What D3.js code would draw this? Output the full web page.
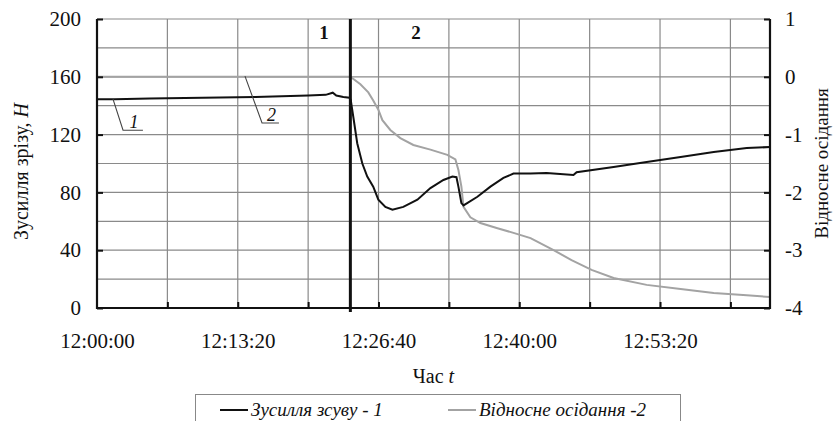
<!DOCTYPE html>
<html><head><meta charset="utf-8">
<script src="https://cdn.jsdelivr.net/npm/d3@7"></script>
<style>
html,body{margin:0;padding:0;background:#fff;}
svg, svg text{font-family:"Liberation Serif","DejaVu Serif","Noto Serif",serif !important;fill:#111;}
</style></head>
<body><svg id="c" width="833" height="421"></svg>
<script>
// ---- data ----
const xTickLabels = ["12:00:00","12:13:20","12:26:40","12:40:00","12:53:20"];
const xStart = "12:00:00", xEnd = "13:03:45";
const leftTicks = [0,40,80,120,160,200];
const rightTicks = [1,0,-1,-2,-3,-4];
// series 1: shear force (N), seconds after 12:00:00
const forceTimes  = [0,100,300,600,900,1200,1300,1340,1360,1400,1435,1442,1457,1479,1508,1536,1570,1599,1639,1679,1741,1821,1895,1969,2020,2043,2054,2071,2083,2162,2236,2310,2367,2464,2555,2708,2726,2936,3124,3317,3505,3693,3825];
const forceValues = [144.5,144.4,145,145.5,146,147,147.5,149,147,146,145.5,144,132,114,100,91,84,75,70,68,70,75,83,88.6,91,90.5,84,72.6,71,77,84,90,93,93,93.4,92,94,97.6,101,104.5,108,110.7,111.4];
// series 2: relative settlement
const settleTimes  = [0,1440,1497,1542,1570,1599,1622,1667,1724,1798,1895,1991,2037,2054,2071,2083,2122,2179,2276,2367,2464,2595,2697,2811,2936,3124,3317,3505,3693,3825];
const settleValues = [0,0,-0.13,-0.27,-0.41,-0.57,-0.75,-0.92,-1.06,-1.18,-1.26,-1.35,-1.43,-1.61,-1.9,-2.25,-2.43,-2.53,-2.62,-2.7,-2.79,-3.0,-3.17,-3.34,-3.48,-3.6,-3.67,-3.74,-3.78,-3.81];
const boundaryTime = "12:24:00";
const stageLabels = ["1","2"];
const stageTimes = [1290,1813];
const stageValue = 186;
const seriesNames = ["Зусилля зсуву - 1","Відносне осідання -2"];
// curve tags: leader start (t,v), leader bend (t,v), underline end t
const tagNames = ["1","2"];
const tagStart = [[91,144.5],[841,160.5]];
const tagBend  = [[148,123],[938,128]];
const tagEnd   = [261,1034];

// ---- layout ----
const FONT = '"Liberation Serif","DejaVu Serif","Noto Serif",serif';
const svg = d3.select("#c");
const M = {l:97, r:770, t:19, b:308};
const parse = d3.timeParse("%H:%M:%S");
const t0 = parse(xStart);
const sec = s => new Date(t0.getTime() + s*1000);
const x = d3.scaleTime().domain([t0, parse(xEnd)]).range([M.l, M.r]);
const yL = d3.scaleLinear().domain([0,200]).range([M.b, M.t]);
const yR = d3.scaleLinear().domain([-4,1]).range([M.b, M.t]);
const endSec = (parse(xEnd)-t0)/1000;

// grid
const g = svg.append("g");
g.selectAll(".hg").data(d3.range(0,201,20)).join("line")
  .attr("x1",M.l).attr("x2",M.r).attr("y1",d=>yL(d)).attr("y2",d=>yL(d))
  .attr("stroke","#8a8a8a").attr("stroke-width",1.2);
g.selectAll(".vg").data(d3.range(400,endSec,400)).join("line")
  .attr("x1",d=>x(sec(d))).attr("x2",d=>x(sec(d))).attr("y1",M.t).attr("y2",M.b)
  .attr("stroke","#8a8a8a").attr("stroke-width",1.2);

// lines
const lineF = d3.line().x((d,i)=>x(sec(forceTimes[i]))).y(d=>yL(d));
const lineS = d3.line().x((d,i)=>x(sec(settleTimes[i]))).y(d=>yR(d));
svg.append("path").datum(settleValues).attr("d",lineS).attr("fill","none")
  .attr("stroke","#a3a3a3").attr("stroke-width",2);
svg.append("path").datum(forceValues).attr("d",lineF).attr("fill","none")
  .attr("stroke","#111").attr("stroke-width",2);

// frame
const fr = svg.append("g").attr("stroke","#111").attr("stroke-width",2.2);
fr.append("line").attr("x1",M.l).attr("x2",M.l).attr("y1",M.t).attr("y2",M.b+1);
fr.append("line").attr("x1",M.l-1).attr("x2",M.r+1).attr("y1",M.b).attr("y2",M.b);
fr.append("line").attr("x1",M.r).attr("x2",M.r).attr("y1",M.t).attr("y2",M.b+1);

// boundary line
const bx = x(parse(boundaryTime));
svg.append("line").attr("x1",bx).attr("x2",bx).attr("y1",M.t).attr("y2",M.b+4)
  .attr("stroke","#111").attr("stroke-width",3);

// axes
const fs = "21px";
const axL = svg.append("g").attr("transform",`translate(${M.l},0)`)
  .call(d3.axisLeft(yL).tickValues(leftTicks).tickSize(-6).tickPadding(16));
const axR = svg.append("g").attr("transform",`translate(${M.r},0)`)
  .call(d3.axisRight(yR).tickValues(rightTicks).tickSize(-6).tickPadding(15)
    .tickFormat(d=> d<0 ? "-"+Math.abs(d) : String(d)));
const axB = svg.append("g").attr("transform",`translate(0,${M.b})`)
  .call(d3.axisBottom(x).tickValues(xTickLabels.map(parse)).tickSize(0).tickPadding(25)
    .tickFormat((d,i)=>xTickLabels[i]));
const axBm = svg.append("g").attr("transform",`translate(0,${M.b})`)
  .call(d3.axisBottom(x).tickValues(d3.range(400,endSec,400).map(sec)).tickSize(-6).tickFormat(""));
[axL,axR,axB,axBm].forEach(a=>{
  a.attr("font-family",FONT);
  a.select(".domain").remove();
  a.selectAll("line").attr("stroke","#111").attr("stroke-width",2);
  a.selectAll("text").style("font-family",FONT).style("font-size",fs).attr("fill","#111");
});

// stage labels
svg.selectAll(".st").data(stageLabels).join("text")
  .attr("x",(d,i)=>x(sec(stageTimes[i]))).attr("y",yL(stageValue))
  .attr("text-anchor","middle").style("font-family",FONT).style("font-size","19px").style("font-weight","bold").text(d=>d);

// curve tags
tagNames.forEach((n,i)=>{
  const p = d3.path();
  p.moveTo(x(sec(tagStart[i][0])), yL(tagStart[i][1]));
  p.lineTo(x(sec(tagBend[i][0])), yL(tagBend[i][1]));
  p.lineTo(x(sec(tagEnd[i])), yL(tagBend[i][1]));
  svg.append("path").attr("d",p.toString()).attr("fill","none").attr("stroke","#444").attr("stroke-width",1.1);
  svg.append("text").attr("x",(x(sec(tagBend[i][0]))+x(sec(tagEnd[i])))/2+1).attr("y",yL(tagBend[i][1])-2)
    .attr("text-anchor","middle").style("font-family",FONT).style("font-size","18px").style("font-style","italic").text(n);
});

// axis titles
const lt = svg.append("text").attr("transform",`translate(28,${(M.t+M.b)/2+8}) rotate(-90)`)
  .attr("text-anchor","middle").style("font-family",FONT).style("font-size","20px");
lt.append("tspan").text("Зусилля зрізу, ");
lt.append("tspan").style("font-style","italic").text("Н");
svg.append("text").attr("transform",`translate(828,${(M.t+M.b)/2}) rotate(-90)`)
  .attr("text-anchor","middle").style("font-family",FONT).style("font-size","19px").text("Відносне осідання");
const xt = svg.append("text").attr("x",(M.l+M.r)/2).attr("y",383).attr("text-anchor","middle")
  .style("font-family",FONT).style("font-size","20px");
xt.append("tspan").text("Час ");
xt.append("tspan").style("font-style","italic").text("t");

// legend
const lg = svg.append("g");
lg.append("rect").attr("x",195.5).attr("y",394.5).attr("width",485).attr("height",40)
  .attr("fill","none").attr("stroke","#888").attr("stroke-width",1);
const lcol = ["#111","#a3a3a3"];
const lx = [220,448];
seriesNames.forEach((n,i)=>{
  lg.append("line").attr("x1",lx[i]).attr("x2",lx[i]+28).attr("y1",410).attr("y2",410)
    .attr("stroke",lcol[i]).attr("stroke-width",2);
  lg.append("text").attr("x",lx[i]+31).attr("y",416).style("font-family",FONT).style("font-size","19px").style("font-style","italic").text(n);
});
</script></body></html>
